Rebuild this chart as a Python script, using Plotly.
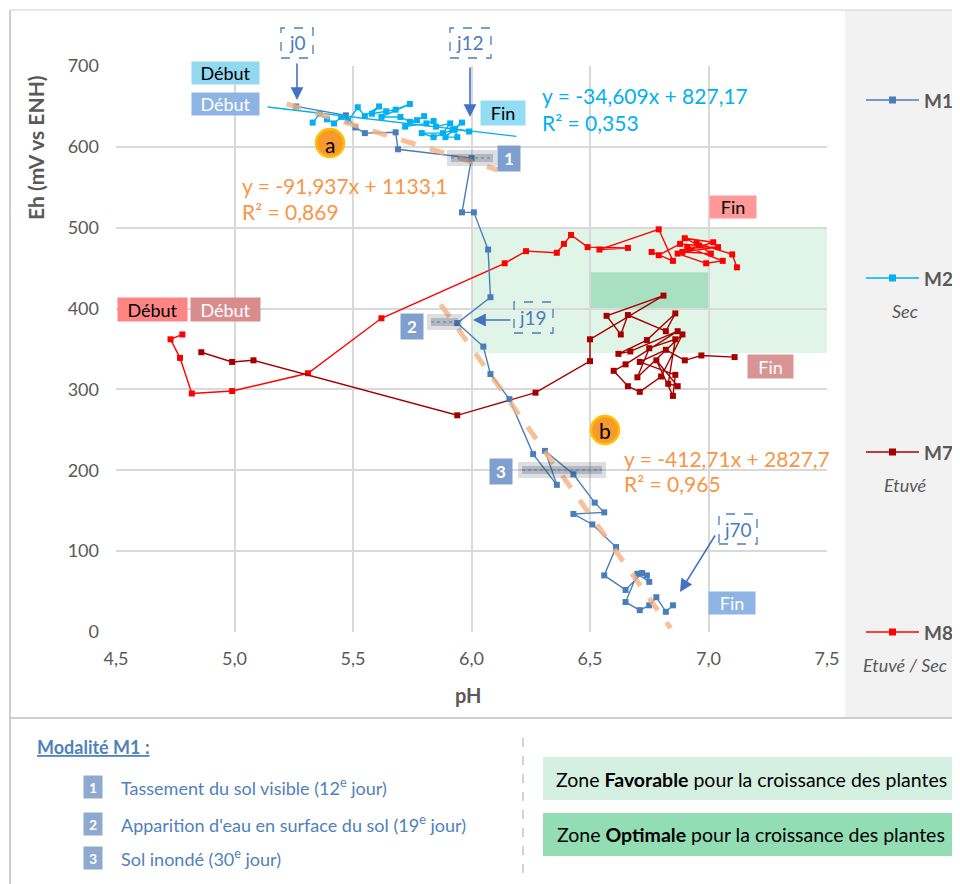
import plotly.graph_objects as go

# ---------------- data ----------------
m1_ph = [5.26, 5.47, 5.51, 5.55, 5.68, 5.69, 6.00, 5.96, 6.01, 6.07, 6.08, 5.94, 6.05, 6.08, 6.16,
         6.26, 6.36, 6.31, 6.43, 6.52, 6.56, 6.43, 6.51, 6.61, 6.56, 6.65, 6.72, 6.74, 6.75, 6.70,
         6.65, 6.71, 6.75, 6.78, 6.82, 6.85]
m1_eh = [650, 639, 624, 617, 618, 597, 586, 519, 519, 473, 414, 382, 353, 319, 288,
         220, 182, 224, 195, 160, 148, 146, 133, 105, 70, 52, 73, 70, 62, 72,
         37, 27, 33, 43, 25, 33]

m2_ph = [5.33, 5.36, 5.39, 5.42, 5.45, 5.48, 5.52, 5.55, 5.61, 5.58, 5.64, 5.68, 5.74, 5.62, 5.70,
         5.74, 5.77, 5.80, 5.72, 5.81, 5.84, 5.85, 5.91, 5.88, 5.79, 5.84, 5.92, 5.96, 5.89, 5.94,
         5.93, 5.99]
m2_eh = [630, 641, 634, 629, 637, 632, 649, 638, 650, 641, 644, 646, 653, 637, 637,
         631, 633, 638, 625, 629, 632, 625, 629, 617, 617, 612, 621, 630, 612, 612,
         622, 619]

m7_ph = [4.86, 4.99, 5.08, 5.94, 6.27, 6.50, 6.50, 6.81, 6.57, 6.63, 6.66, 6.82, 6.86, 6.74, 6.62,
         6.67, 6.87, 6.65, 6.60, 6.66, 6.71, 6.80, 6.89, 6.70, 6.75, 6.86, 6.83, 6.87, 6.78, 6.85,
         6.86, 6.71, 6.82, 6.90, 6.97, 7.11]
m7_eh = [346, 334, 336, 268, 296, 335, 362, 416, 391, 368, 392, 372, 394, 361, 344,
         347, 372, 331, 323, 304, 297, 316, 368, 315, 351, 362, 307, 304, 336, 292,
         318, 334, 349, 336, 342, 340]

m8_ph = [4.78, 4.73, 4.77, 4.82, 4.99, 5.31, 5.62, 6.14, 6.23, 6.36, 6.39, 6.42, 6.49, 6.66, 6.54,
         6.79, 6.85, 6.76, 6.79, 6.88, 6.96, 6.90, 7.02, 6.87, 6.99, 7.06, 6.91, 7.04, 6.89, 7.01,
         6.95, 7.10, 7.12]
m8_eh = [368, 362, 339, 295, 298, 320, 388, 456, 471, 469, 480, 491, 476, 475, 473,
         498, 459, 470, 466, 480, 478, 487, 482, 468, 456, 459, 476, 476, 470, 468,
         481, 467, 451]

# trend lines: (slope, intercept, pH start, pH end)
trend_m2 = (-34.609, 827.17, 5.14, 6.19)
trend_a = (-91.937, 1133.1, 5.22, 6.11)
trend_b = (-412.71, 2827.7, 5.87, 6.84)

zone_fav = (6.0, 7.5, 345, 500)
zone_opt = (6.5, 7.0, 400, 445)

x_ticks = [4.5, 5.0, 5.5, 6.0, 6.5, 7.0, 7.5]
x_tick_labels = ["4,5", "5,0", "5,5", "6,0", "6,5", "7,0", "7,5"]
y_ticks = [0, 100, 200, 300, 400, 500, 600, 700]

C_M1 = "#4A7EBB"
C_M2 = "#00B0F0"
C_M7 = "#A50000"
C_M8 = "#FF0000"
C_OR = "#F79646"
C_TXT = "#595959"
FONT = "Lato, 'Open Sans', sans-serif"

# page body has an 8px margin: figure is shifted by OFF
OFF = 8
W, H = 960 - OFF, 884 - OFF
# plot area in page pixels
L, R, T, B = 116, 827, 66, 632

def X(px):
    return (px - L) / (R - L)
def Y(py):
    return (B - py) / (B - T)

fig = go.Figure()

def series(xs, ys, color, name):
    fig.add_trace(go.Scatter(x=xs, y=ys, mode="lines+markers", name=name,
                             line=dict(color=color, width=1.4),
                             marker=dict(symbol="square", size=6, color=color),
                             showlegend=False))

series(m8_ph, m8_eh, C_M8, "M8")
series(m7_ph, m7_eh, C_M7, "M7")
series(m1_ph, m1_eh, C_M1, "M1")
series(m2_ph, m2_eh, C_M2, "M2")

def trend(t, color, width, dash, opacity):
    a, b, x0, x1 = t
    fig.add_trace(go.Scatter(x=[x0, x1], y=[a * x0 + b, a * x1 + b], mode="lines",
                             line=dict(color=color, width=width, dash=dash),
                             opacity=opacity, showlegend=False, hoverinfo="skip"))

trend(trend_m2, C_M2, 1.3, "solid", 1)
trend(trend_a, "#F4B183", 5, "dash", 0.8)
trend(trend_b, "#F4B183", 5, "dash", 0.8)

shapes = []
shapes.append(dict(type="rect", xref="x", yref="y", x0=zone_fav[0], x1=zone_fav[1], y0=zone_fav[2], y1=zone_fav[3],
                   fillcolor="rgba(170,224,190,0.35)", line=dict(width=0), layer="below"))
shapes.append(dict(type="rect", xref="x", yref="y", x0=zone_opt[0], x1=zone_opt[1], y0=zone_opt[2], y1=zone_opt[3],
                   fillcolor="rgba(120,210,160,0.55)", line=dict(width=0), layer="below"))

def prect(x0, y0, x1, y1, **kw):
    d = dict(type="rect", xref="paper", yref="paper", x0=X(x0), x1=X(x1), y0=Y(y1), y1=Y(y0))
    d.update(kw)
    shapes.append(d)

def pline(x0, y0, x1, y1, **kw):
    d = dict(type="line", xref="paper", yref="paper", x0=X(x0), x1=X(x1), y0=Y(y0), y1=Y(y1))
    d.update(kw)
    shapes.append(d)

# right grey panel and frame
prect(845, 10, 962, 718, fillcolor="#F2F2F2", line=dict(width=0), layer="below")
pline(10, 10, 962, 10, line=dict(color="#D0D0D0", width=1))
pline(10, 10, 10, 886, line=dict(color="#BFBFBF", width=1.5))
pline(10, 718, 962, 718, line=dict(color="#BFBFBF", width=1.5))
pline(523, 738, 523, 880, line=dict(color="#A6A6A6", width=1, dash="dash"))

# dashed j boxes
for (x0, y0, x1, y1) in [(281, 28, 313, 58), (450, 28, 491, 58), (514, 302, 553, 333), (719, 514, 757, 544)]:
    prect(x0, y0, x1, y1, line=dict(color=C_M1, width=1.3, dash="dash"), fillcolor="rgba(0,0,0,0)")

# glow/shadow for markers 1,2,3
for (x0, x1, y) in [(447, 497, 158), (427, 462, 322), (518, 606, 470)]:
    pline(x0, y, x1, y, line=dict(color="rgba(60,70,90,0.18)", width=16))
    pline(x0 + 4, y, x1 - 4, y, line=dict(color="rgba(60,70,90,0.25)", width=8))
    pline(x0 + 4, y, x1 - 4, y, line=dict(color=C_M1, width=1, dash="dot"))

# circles a, b
for (cx, cy) in [(330, 143), (605, 430)]:
    prect(cx - 14, cy - 14, cx + 14, cy + 14, type="circle", fillcolor="#F79A2E", line=dict(color="#FFC000", width=2.5))

# bottom zone boxes
prect(543, 757, 958, 800, fillcolor="#D5F0E0", line=dict(width=0))
prect(543, 813, 958, 856, fillcolor="#92DDB3", line=dict(width=0))

# right legend lines and markers
leg = [(100, C_M1, "M1", None), (278, C_M2, "M2", "Sec"), (452, C_M7, "M7", "Etuvé"), (632, C_M8, "M8", "Etuvé / Sec")]
for (ly, col, nm, sub) in leg:
    pline(866, ly, 919, ly, line=dict(color=col, width=1.4))
    prect(889, ly - 3.5, 896, ly + 3.5, fillcolor=col, line=dict(width=0))

ann = []
def text(px, py, s, size=16, color="black", xanchor="center", **kw):
    d = dict(xref="paper", yref="paper", x=X(px), y=Y(py), text=s, showarrow=False,
             font=dict(size=size, color=color, family=FONT), xanchor=xanchor, yanchor="middle")
    d.update(kw)
    ann.append(d)

def label(px, py, s, bg, color, w, h, size=18, bold=False):
    text(px, py, ("<b>%s</b>" % s) if bold else s, size=size, color=color, bgcolor=bg,
         width=w, height=h, borderpad=0, align="center", valign="middle")

def arrow(tx, ty, hx, hy):
    ann.append(dict(xref="paper", yref="paper", x=X(hx), y=Y(hy), ax=tx - hx, ay=ty - hy,
                    axref="pixel", ayref="pixel", text="", showarrow=True, arrowhead=2,
                    arrowsize=1.6, arrowwidth=1.6, arrowcolor="#4472C4"))

# j labels
text(297, 43, "j0", 19, C_M1)
text(470, 43, "j12", 19, C_M1)
text(533, 317, "j19", 19, C_M1)
text(738, 529, "j70", 19, C_M1)
arrow(297, 62, 297, 100)
arrow(470, 66, 470, 117)
arrow(512, 320, 473, 320)
arrow(716, 534, 680, 592)

# début / fin labels
label(225, 73, "Début", "#92D8F0", "black", 67, 22)
label(225, 104, "Début", "#8DB4E2", "white", 67, 22)
label(503, 113, "Fin", "#92DDF3", "black", 44, 24)
label(733, 207, "Fin", "#FF9999", "black", 46, 22)
label(152, 309, "Début", "#FF8585", "black", 69, 23)
label(225, 309, "Début", "#D98C8C", "white", 69, 23)
label(770, 366, "Fin", "#D99594", "white", 45, 23)
label(732, 603, "Fin", "#8DB4E2", "white", 46, 22)

# numbered squares
label(509, 158, "1", "#7F9FCF", "white", 22, 25, 17, True)
label(412, 327, "2", "#7F9FCF", "white", 22, 25, 17, True)
label(501, 471, "3", "#7F9FCF", "white", 22, 25, 17, True)

text(330, 144, "a", 21, "black")
text(605, 431, "b", 21, "black")

# equations
text(540, 95, "y = -34,609x + 827,17", 21, C_M2, "left")
text(540, 122, "R² = 0,353", 21, C_M2, "left")
text(240, 185, "y = -91,937x + 1133,1", 21, C_OR, "left")
text(240, 212, "R² = 0,869", 21, C_OR, "left")
text(622, 458, "y = -412,71x + 2827,7", 21, C_OR, "left")
text(622, 484, "R² = 0,965", 21, C_OR, "left")

# axis titles
text(468, 695, "<b>pH</b>", 20, C_TXT)
text(35, 148, "<b>Eh (mV vs ENH)</b>", 21, C_TXT, textangle=-90)

for (ly, col, nm, sub) in leg:
    text(922, ly, "<b>%s</b>" % nm, 19, C_TXT, "left")
    if sub:
        text(905, ly + 33, "<i>%s</i>" % sub, 18, C_TXT)

# bottom left
text(35, 747, "<b><u>Modalité M1 :</u></b>", 18, "#4F81BD", "left")
items = [(787, "1", "Tassement du sol visible (12<sup>e</sup> jour)"),
         (824, "2", "Apparition d'eau en surface du sol (19<sup>e</sup> jour)"),
         (858, "3", "Sol inondé (30<sup>e</sup> jour)")]
for (iy, n, s) in items:
    label(93, iy, n, "#8EA9CE", "white", 18, 22, 14, True)
    text(119, iy, s, 18, "#4F81BD", "left")

text(751, 779, "Zone <b>Favorable</b> pour la croissance des plantes", 19.5, "black")
text(751, 835, "Zone <b>Optimale</b> pour la croissance des plantes", 19.5, "black")

fig.update_layout(
    width=W, height=H,
    margin=dict(l=L - OFF, r=960 - R, t=T - OFF, b=884 - B),
    paper_bgcolor="white", plot_bgcolor="rgba(0,0,0,0)",
    font=dict(family=FONT, color=C_TXT, size=16),
    shapes=shapes, annotations=ann, showlegend=False,
    xaxis=dict(range=[4.5, 7.5], tickvals=x_ticks, ticktext=x_tick_labels,
               showgrid=True, gridcolor="#D9D9D9", gridwidth=2, zeroline=False,
               showline=False, ticks="", ticklabelstandoff=14,
               tickfont=dict(size=18, color=C_TXT)),
    yaxis=dict(range=[0, 700], tickvals=y_ticks,
               showgrid=True, gridcolor="#D9D9D9", gridwidth=2, zeroline=False,
               showline=False, ticks="", ticklabelstandoff=16,
               tickfont=dict(size=18, color=C_TXT)),
)

fig.write_html("out.html")
